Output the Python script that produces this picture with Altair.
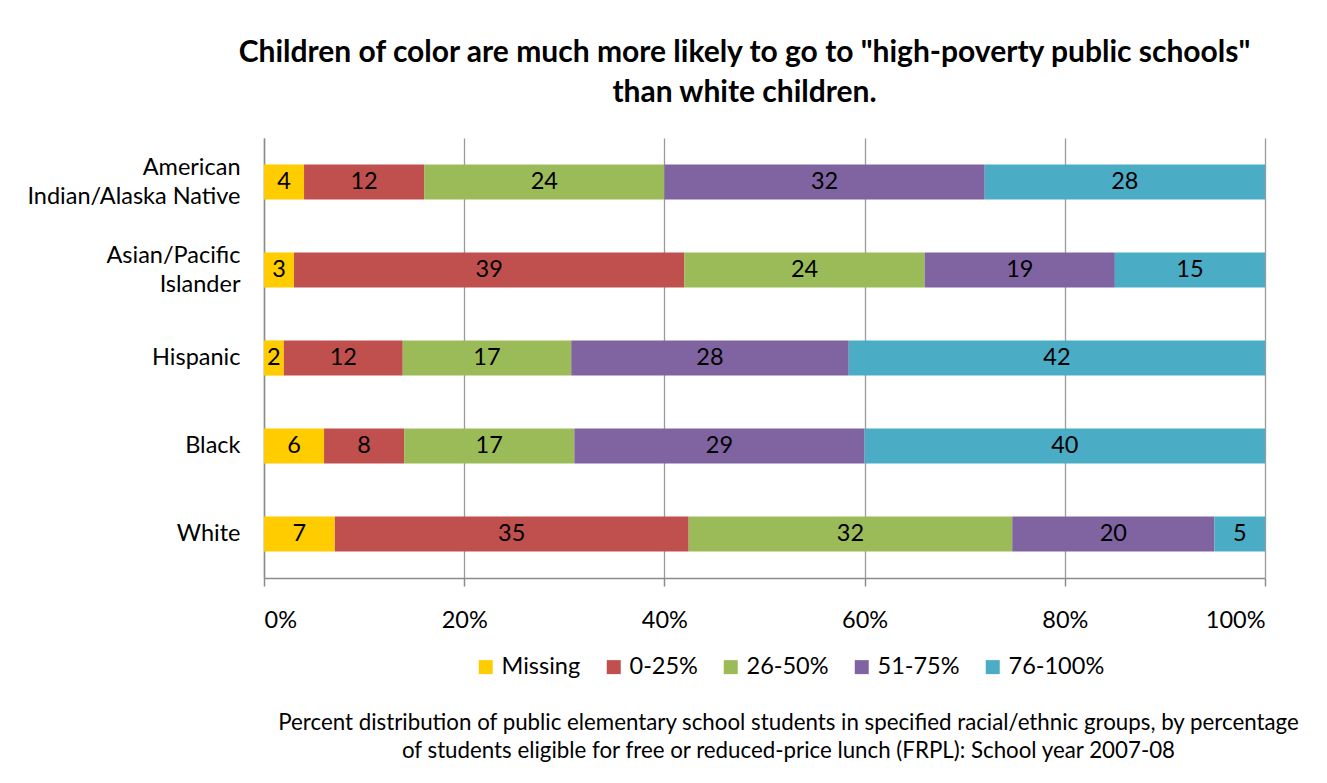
import altair as alt
import pandas as pd

# ---- data ----
groups = ["American|Indian/Alaska Native", "Asian/Pacific|Islander", "Hispanic", "Black", "White"]
categories = ["Missing", "0-25%", "26-50%", "51-75%", "76-100%"]
colors = ["#FFCC00", "#C0504D", "#9BBB59", "#8064A2", "#4BACC6"]
missing = [4, 3, 2, 6, 7]
p0_25 = [12, 39, 12, 8, 35]
p26_50 = [24, 24, 17, 17, 32]
p51_75 = [32, 19, 28, 29, 20]
p76_100 = [28, 15, 42, 40, 5]
x_ticks = [0, 0.2, 0.4, 0.6, 0.8, 1.0]

title_lines = ['Children of color are much more likely to go to "high-poverty public schools"',
               "than white children."]
caption_lines = ["Percent distribution of public elementary school students in specified racial/ethnic groups, by percentage",
                 "of students eligible for free or reduced-price lunch (FRPL): School year 2007-08"]

series = [missing, p0_25, p26_50, p51_75, p76_100]
rows = []
for ci, (cat, vals) in enumerate(zip(categories, series)):
    for g, v in zip(groups, vals):
        rows.append({"group": g, "category": cat, "value": v, "order": ci})
df = pd.DataFrame(rows)

FONT = "Lato"
FS = 23.5

x_axis = alt.Axis(
    format="%", values=x_ticks, grid=True, gridColor="#9A9A9A", gridWidth=1.3,
    domainColor="#8C8C8C", domainWidth=1.5, tickColor="#8C8C8C", tickSize=8, tickWidth=1.5,
    labelFontSize=FS, labelColor="#000000", labelPadding=22, labelFont=FONT,
    title=caption_lines, titleFontSize=22.3, titleFontWeight="normal", titleColor="#000000",
    titleFont=FONT, titleX=524, titleY=133, titleAlign="center", titleBaseline="top",
    titleLineHeight=28, titleAnchor="middle"
)

y_enc = alt.Y(
    "group:N", sort=groups, title=None,
    scale=alt.Scale(paddingInner=0.6, paddingOuter=0.3),
    axis=alt.Axis(ticks=False, grid=False, domainColor="#8C8C8C", domainWidth=1.5,
                  labelFontSize=FS, labelColor="#000000", labelPadding=24, labelFont=FONT,
                  labelExpr="split(datum.label, '|')", labelLineHeight=29,
                  labelBaseline="middle", labelLimit=400,
                  labelOffset={"condition": {"test": "indexof(datum.value, '|') >= 0", "value": -14.5},
                               "value": 0})
)

bars = alt.Chart(df).mark_bar().encode(
    x=alt.X("value:Q", stack="normalize", scale=alt.Scale(domain=[0, 1], nice=False), axis=x_axis),
    y=y_enc,
    color=alt.Color("category:N", sort=categories,
                    scale=alt.Scale(domain=categories, range=colors),
                    legend=alt.Legend(orient="none", legendX=210, legendY=517, direction="horizontal",
                                      title=None, symbolType="square", symbolSize=196,
                                      symbolStrokeWidth=0, labelFontSize=FS, labelFont=FONT,
                                      labelColor="#000000", columnPadding=21, labelOffset=4)),
    order=alt.Order("order:Q"),
)

labels = alt.Chart(df).transform_stack(
    stack="value", groupby=["group"], sort=[alt.SortField("order")],
    offset="normalize", as_=["x0", "x1"]
).transform_calculate(
    mid="(datum.x0 + datum.x1) / 2"
).mark_text(fontSize=FS, font=FONT, color="#000000", baseline="middle", align="center").encode(
    x=alt.X("mid:Q", scale=alt.Scale(domain=[0, 1], nice=False), axis=x_axis),
    y=y_enc,
    text=alt.Text("value:Q"),
)

chart = alt.layer(bars, labels).properties(
    width=1001, height=440,
    autosize=alt.AutoSizeParams(type="none"),
    padding={"left": 256, "top": 130, "right": 50, "bottom": 188},
    title=alt.TitleParams(text=title_lines, fontSize=30, font=FONT, fontWeight="bold",
                          color="#000000", anchor="middle", dx=-20, offset=30, lineHeight=40),
    background="white",
).configure_view(stroke=None)

chart.save("out.html", embed_options={"renderer": "svg", "actions": False})
